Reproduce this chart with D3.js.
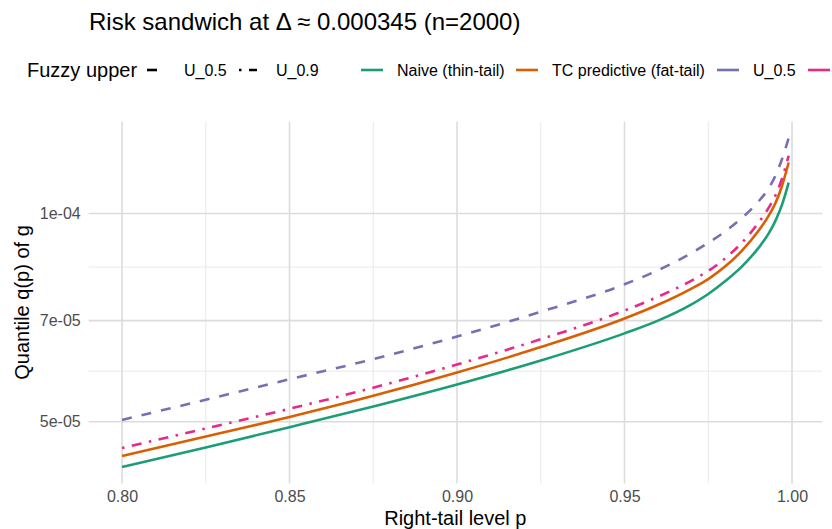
<!DOCTYPE html>
<html>
<head>
<meta charset="utf-8">
<script src="https://cdn.jsdelivr.net/npm/d3@7"></script>
<style>
  body { margin: 0; background: #fff; }
  svg { display: block; font-family: "Liberation Sans", Arial, sans-serif; }
</style>
</head>
<body>
<svg id="chart" width="832" height="529"></svg>
<script>
// right-tail levels and quantiles (units of 1e-5)
const pLevels = [0.80, 0.825, 0.85, 0.875, 0.90, 0.925, 0.95, 0.96, 0.97, 0.975, 0.98, 0.985, 0.99, 0.993, 0.995, 0.997, 0.999];
const naive = [4.30, 4.59, 4.91, 5.26, 5.66, 6.13, 6.71, 7.00, 7.39, 7.65, 7.98, 8.38, 8.92, 9.35, 9.75, 10.29, 11.08];
const tcPredictive = [4.46, 4.76, 5.08, 5.45, 5.89, 6.41, 7.05, 7.38, 7.79, 8.04, 8.38, 8.83, 9.44, 9.92, 10.34, 10.96, 11.85];
const upper05 = [5.03, 5.38, 5.76, 6.16, 6.64, 7.21, 7.90, 8.28, 8.77, 9.07, 9.42, 9.85, 10.41, 10.87, 11.33, 11.98, 12.86];
const upper09 = [4.58, 4.89, 5.22, 5.60, 6.05, 6.58, 7.24, 7.58, 8.00, 8.26, 8.61, 9.07, 9.70, 10.19, 10.61, 11.23, 12.12];

const xTicks = [0.80, 0.85, 0.90, 0.95, 1.00];
const xMinor = [0.825, 0.875, 0.925, 0.975];
const yTicks = [5e-5, 7e-5, 1e-4];
const yTickLabels = ["5e-05", "7e-05", "1e-04"];
const yMinor = [Math.sqrt(5e-5 * 7e-5), Math.sqrt(7e-5 * 1e-4)];

const series = [
  { name: "Naive (thin-tail)", values: naive, color: "#1B9E77", dash: null },
  { name: "TC predictive (fat-tail)", values: tcPredictive, color: "#D95F02", dash: null },
  { name: "U_0.5", values: upper05, color: "#7570B3", dash: "10,10" },
  { name: "U_0.9", values: upper09, color: "#E7298A", dash: "2.5,7.5,10,7.5" },
];
const fuzzyKeys = [
  { name: "U_0.5", dash: "10,10" },
  { name: "U_0.9", dash: "2.5,7.5,10,7.5" },
];

const svg = d3.select("#chart");
const panel = { left: 88.7, right: 822, top: 121.5, bottom: 483.5 };
const lineW = 2.6;

const xExt = d3.extent(pLevels);
const xPad = (xExt[1] - xExt[0]) * 0.05;
const x = d3.scaleLinear()
  .domain([xExt[0] - xPad, xExt[1] + xPad])
  .range([panel.left, panel.right]);

const allVals = series.flatMap((s) => s.values.map((v) => v * 1e-5));
const lo = Math.log10(d3.min(allVals));
const hi = Math.log10(d3.max(allVals));
const yPad = (hi - lo) * 0.05;
const y = d3.scaleLog()
  .domain([Math.pow(10, lo - yPad), Math.pow(10, hi + yPad)])
  .range([panel.bottom, panel.top]);

// grid
const grid = svg.append("g");
grid.selectAll(".xminor").data(xMinor).join("line")
  .attr("x1", (d) => x(d)).attr("x2", (d) => x(d))
  .attr("y1", panel.top).attr("y2", panel.bottom)
  .attr("stroke", "#e6e6e6").attr("stroke-width", 0.9);
grid.selectAll(".yminor").data(yMinor).join("line")
  .attr("y1", (d) => y(d)).attr("y2", (d) => y(d))
  .attr("x1", panel.left).attr("x2", panel.right)
  .attr("stroke", "#e6e6e6").attr("stroke-width", 0.9);
grid.selectAll(".xmajor").data(xTicks).join("line")
  .attr("x1", (d) => x(d)).attr("x2", (d) => x(d))
  .attr("y1", panel.top).attr("y2", panel.bottom)
  .attr("stroke", "#dcdcdc").attr("stroke-width", 1.6);
grid.selectAll(".ymajor").data(yTicks).join("line")
  .attr("y1", (d) => y(d)).attr("y2", (d) => y(d))
  .attr("x1", panel.left).attr("x2", panel.right)
  .attr("stroke", "#dcdcdc").attr("stroke-width", 1.6);

// axes
const xAxis = svg.append("g")
  .attr("transform", `translate(0, ${panel.bottom})`)
  .call(d3.axisBottom(x).tickValues(xTicks).tickFormat(d3.format(".2f")).tickSize(0).tickPadding(7));
const yAxis = svg.append("g")
  .attr("transform", `translate(${panel.left}, 0)`)
  .call(d3.axisLeft(y).tickValues(yTicks).tickFormat((d, i) => yTickLabels[i]).tickSize(0).tickPadding(8));
[xAxis, yAxis].forEach((a) => {
  a.select(".domain").remove();
  a.selectAll("text")
    .attr("fill", "#4d4d4d")
    .style("font-size", "16px")
    .style("font-family", "'Liberation Sans', Arial, sans-serif");
});

// lines
const line = d3.line()
  .x((d) => x(d[0]))
  .y((d) => y(d[1] * 1e-5))
  .curve(d3.curveMonotoneX);

svg.append("g").selectAll("path").data(series).join("path")
  .attr("d", (s) => line(pLevels.map((p, i) => [p, s.values[i]])))
  .attr("fill", "none")
  .attr("stroke", (s) => s.color)
  .attr("stroke-width", lineW)
  .attr("stroke-dasharray", (s) => s.dash);

// titles
svg.append("text")
  .attr("x", 89).attr("y", 30)
  .style("font-size", "24px").attr("fill", "#000")
  .text("Risk sandwich at \u0394 \u2248 0.000345 (n=2000)");

svg.append("text")
  .attr("x", (panel.left + panel.right) / 2).attr("y", 525)
  .attr("text-anchor", "middle")
  .style("font-size", "20px")
  .text("Right-tail level p");

svg.append("text")
  .attr("transform", `translate(29, ${(panel.top + panel.bottom) / 2}) rotate(-90)`)
  .attr("text-anchor", "middle")
  .style("font-size", "20px")
  .text("Quantile q(p) of g");

// legend (runs off the right edge, as in the original)
const legY = 70;
const leg = svg.append("g");
leg.append("text")
  .attr("x", 27).attr("y", legY).attr("dy", "0.35em")
  .style("font-size", "20px")
  .text("Fuzzy upper");

const fuzzyX = [147, 239];
fuzzyKeys.forEach((k, i) => {
  leg.append("line")
    .attr("x1", fuzzyX[i]).attr("x2", fuzzyX[i] + 18)
    .attr("y1", legY).attr("y2", legY)
    .attr("stroke", "#000").attr("stroke-width", lineW)
    .attr("stroke-dasharray", k.dash);
  leg.append("text")
    .attr("x", fuzzyX[i] + 37).attr("y", legY).attr("dy", "0.35em")
    .style("font-size", "16px")
    .text(k.name);
});

const colourX = [361, 516, 717, 808];
series.forEach((s, i) => {
  leg.append("line")
    .attr("x1", colourX[i]).attr("x2", colourX[i] + 22)
    .attr("y1", legY).attr("y2", legY)
    .attr("stroke", s.color).attr("stroke-width", lineW);
  leg.append("text")
    .attr("x", colourX[i] + 36).attr("y", legY).attr("dy", "0.35em")
    .style("font-size", "16px")
    .text(s.name);
});
</script>
</body>
</html>
